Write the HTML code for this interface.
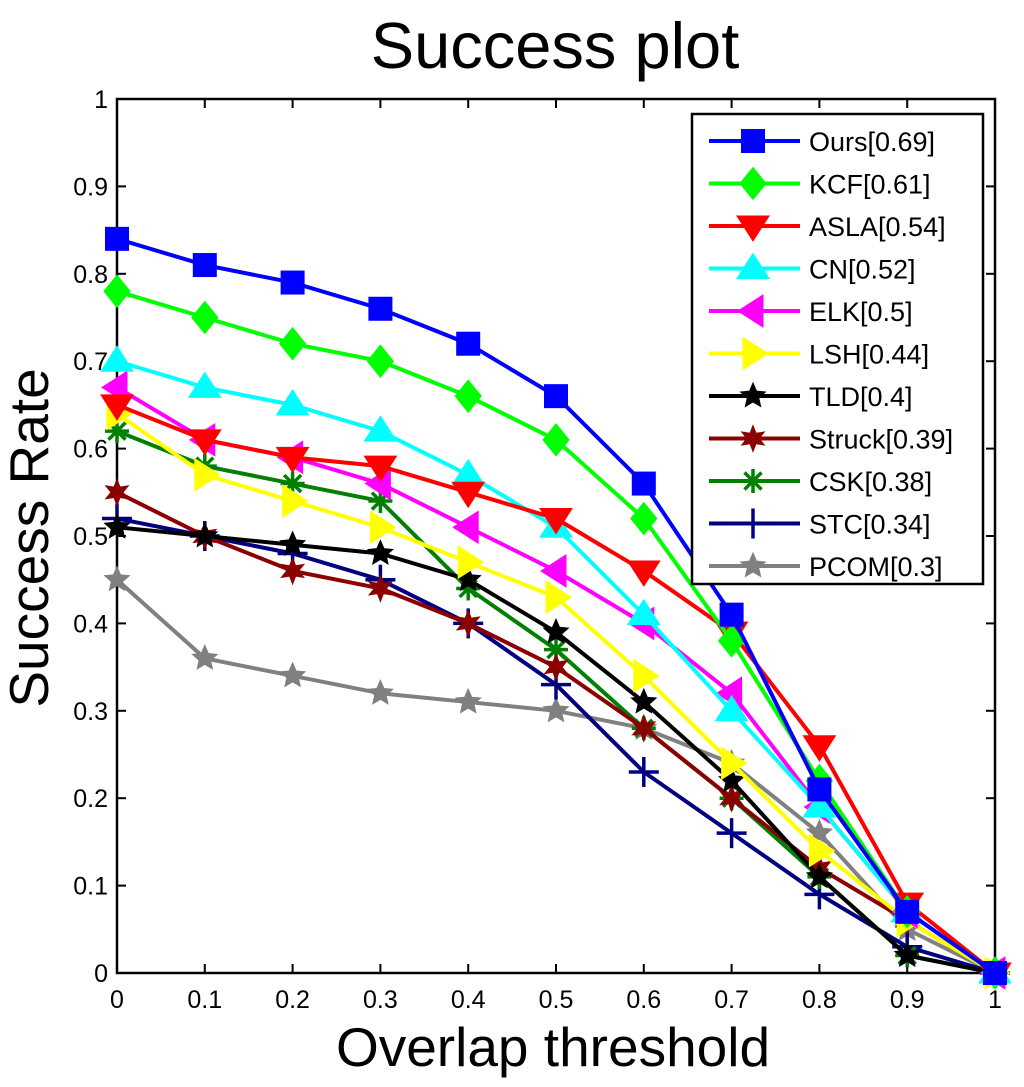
<!DOCTYPE html>
<html><head><meta charset="utf-8"><style>
body{margin:0;background:#fff;}
svg{display:block;font-family:"Liberation Sans",sans-serif;}
</style></head><body>
<svg id="chart" width="1024" height="1087"></svg>
<script>
const thresholds=[0,0.1,0.2,0.3,0.4,0.5,0.6,0.7,0.8,0.9,1.0];
const seriesNames=["Ours[0.69]","KCF[0.61]","ASLA[0.54]","CN[0.52]","ELK[0.5]","LSH[0.44]","TLD[0.4]","Struck[0.39]","CSK[0.38]","STC[0.34]","PCOM[0.3]"];
const ours=[.84,.81,.79,.76,.72,.66,.56,.41,.21,.07,0];
const kcf=[.78,.75,.72,.70,.66,.61,.52,.38,.22,.07,0];
const asla=[.65,.61,.59,.58,.55,.52,.46,.39,.26,.08,0];
const cn=[.70,.67,.65,.62,.57,.51,.41,.30,.19,.07,0];
const elk=[.67,.61,.59,.56,.51,.46,.40,.32,.19,.07,0];
const lsh=[.64,.57,.54,.51,.47,.43,.34,.24,.14,.06,0];
const tld=[.51,.50,.49,.48,.45,.39,.31,.22,.11,.02,0];
const struck=[.55,.50,.46,.44,.40,.35,.28,.20,.12,.06,0];
const csk=[.62,.58,.56,.54,.44,.37,.28,.20,.11,.02,0];
const stc=[.52,.50,.48,.45,.40,.33,.23,.16,.09,.03,0];
const pcom=[.45,.36,.34,.32,.31,.30,.28,.24,.16,.05,0];
const xTicks=["0","0.1","0.2","0.3","0.4","0.5","0.6","0.7","0.8","0.9","1"];
const yTicks=["0","0.1","0.2","0.3","0.4","0.5","0.6","0.7","0.8","0.9","1"];

const allSeries=[ours,kcf,asla,cn,elk,lsh,tld,struck,csk,stc,pcom];
const colors=["#0000ff","#00ff00","#ff0000","#00ffff","#ff00ff","#ffff00","#000000","#8b0000","#008000","#000080","#808080"];
const markers=["square","diamond","tridown","triup","trileft","triright","star","hexstar","asterisk","plus","star"];
const X0=117,X1=995,Y0=973,Y1=99;
const xs=v=>X0+(X1-X0)*v;
const ys=v=>Y0-(Y0-Y1)*v;
const NS="http://www.w3.org/2000/svg";
const svg=document.getElementById('chart');
function mk(t,a,p){const e=document.createElementNS(NS,t);for(const k in a)e.setAttribute(k,a[k]);(p||svg).appendChild(e);return e;}

const frame=mk('rect',{x:X0,y:Y1,width:X1-X0,height:Y0-Y1,fill:'#fff',stroke:'#000','stroke-width':2.5});


xTicks.forEach((t,i)=>{const v=parseFloat(t);const x=xs(v);
 mk('line',{x1:x,y1:Y0,x2:x,y2:Y0-9,stroke:'#000','stroke-width':2});
 mk('line',{x1:x,y1:Y1,x2:x,y2:Y1+9,stroke:'#000','stroke-width':2});
 const tx=mk('text',{x:x,y:1008,'font-size':25,'text-anchor':'middle'});tx.textContent=t;
 
 
});
yTicks.forEach((t,i)=>{const v=parseFloat(t);const y=ys(v);
 mk('line',{x1:X0,y1:y,x2:X0+9,y2:y,stroke:'#000','stroke-width':2});
 mk('line',{x1:X1,y1:y,x2:X1-9,y2:y,stroke:'#000','stroke-width':2});
 const tx=mk('text',{x:108,y:y+9,'font-size':25,'text-anchor':'end'});tx.textContent=t;
 
 
});

function marker(type,cx,cy,c,g){
 const s=12;
 const poly=pts=>mk('polygon',{points:pts.map(p=>p.join(',')).join(' '),fill:c,stroke:c,'stroke-width':1},g);
 if(type==='square')mk('rect',{x:cx-s,y:cy-s,width:2*s,height:2*s,fill:c},g);
 else if(type==='diamond')poly([[cx,cy-s-4],[cx+s+1,cy],[cx,cy+s+4],[cx-s-1,cy]]);
 else if(type==='tridown')poly([[cx-s-4,cy-s+2],[cx+s+4,cy-s+2],[cx,cy+s+3]]);
 else if(type==='triup')poly([[cx-s-4,cy+s-2],[cx+s+4,cy+s-2],[cx,cy-s-3]]);
 else if(type==='trileft')poly([[cx+s-2,cy-s-4],[cx+s-2,cy+s+4],[cx-s-3,cy]]);
 else if(type==='triright')poly([[cx-s+2,cy-s-4],[cx-s+2,cy+s+4],[cx+s+3,cy]]);
 else if(type==='star'||type==='hexstar'){const n=type==='star'?5:6;const pts=[];for(let k=0;k<2*n;k++){const r=k%2?6:13;const a=-Math.PI/2+k*Math.PI/n;pts.push([cx+r*Math.cos(a),cy+r*Math.sin(a)]);}poly(pts);}
 else if(type==='asterisk'){for(let k=0;k<4;k++){const a=k*Math.PI/4;mk('line',{x1:cx-s*Math.cos(a),y1:cy-s*Math.sin(a),x2:cx+s*Math.cos(a),y2:cy+s*Math.sin(a),stroke:c,'stroke-width':3.5},g);}}
 else if(type==='plus'){mk('line',{x1:cx-s-3,y1:cy,x2:cx+s+3,y2:cy,stroke:c,'stroke-width':3.5},g);mk('line',{x1:cx,y1:cy-s-3,x2:cx,y2:cy+s+3,stroke:c,'stroke-width':3.5},g);}
}

for(let i=allSeries.length-1;i>=0;i--){
 const g=mk('g',{});
 
 
 const pts=allSeries[i].map((v,j)=>xs(thresholds[j])+','+ys(v)).join(' ');
 mk('polyline',{points:pts,fill:'none',stroke:colors[i],'stroke-width':4},g);
 allSeries[i].forEach((v,j)=>marker(markers[i],xs(thresholds[j]),ys(v),colors[i],g));
}

const lg=mk('g',{});


mk('rect',{x:692,y:114,width:291,height:470,fill:'#fff',stroke:'#000','stroke-width':2.5},lg);
seriesNames.forEach((n,i)=>{const y=141+i*42.5;
 const e=mk('g',{},lg);
 
 
 mk('line',{x1:709,y1:y,x2:800,y2:y,stroke:colors[i],'stroke-width':4},e);
 marker(markers[i],753,y,colors[i],e);
 const t=mk('text',{x:809,y:y+10,'font-size':27},e);t.textContent=n;
});

const title=mk('text',{x:555,y:68,'font-size':65,'text-anchor':'middle'});title.textContent='Success plot';


const xl=mk('text',{x:553,y:1066,'font-size':55,'text-anchor':'middle'});xl.textContent='Overlap threshold';


const yl=mk('text',{x:0,y:0,'font-size':55,'text-anchor':'middle',transform:'translate(48,538) rotate(-90)'});yl.textContent='Success Rate';


</script>
</body></html>
